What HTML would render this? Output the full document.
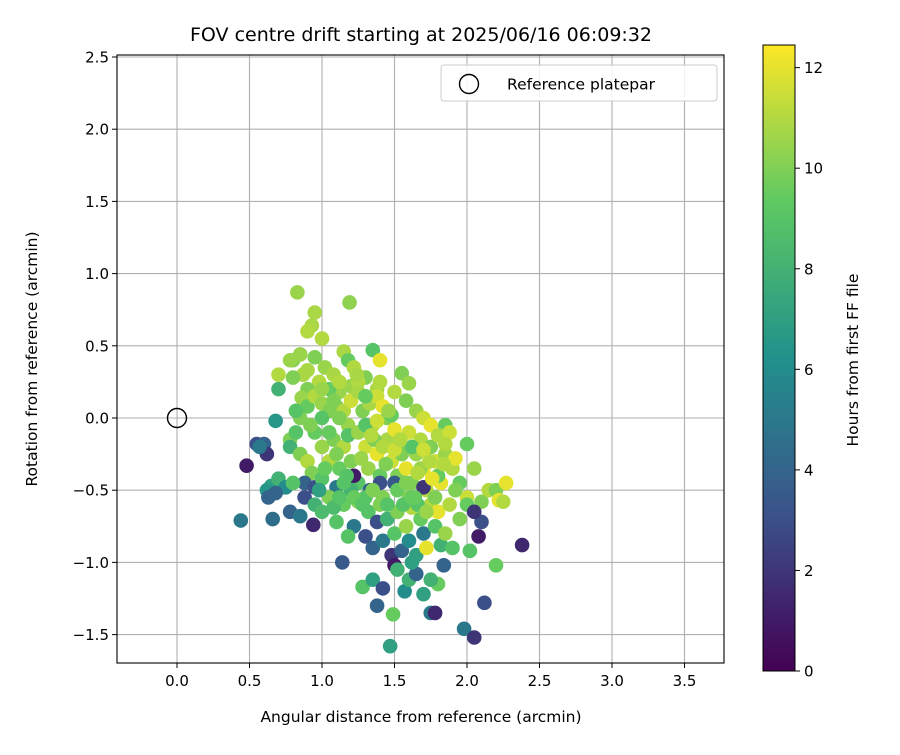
<!DOCTYPE html>
<html><head><meta charset="utf-8"><style>
body{margin:0;background:#fff;font-family:"Liberation Sans","DejaVu Sans",sans-serif}
svg text{font-family:"DejaVu Sans","Liberation Sans",sans-serif;fill:#000}
</style></head><body>
<svg id="chart" width="900" height="750" xmlns="http://www.w3.org/2000/svg"></svg>
<script>
const xs=[0.83,0.93,0.95,1.19,1.0,0.9,0.8,0.85,0.87,0.95,1.02,1.08,1.15,1.18,1.2,1.3,1.35,1.4,1.38,1.25,1.12,1.05,0.98,0.9,0.86,0.85,0.9,0.95,1.0,1.1,1.15,1.2,1.28,1.33,1.38,1.42,1.45,1.55,1.6,1.58,1.65,1.7,1.75,1.85,1.5,0.78,0.7,0.7,0.68,0.8,0.82,1.05,1.25,0.9,1.22,1.3,
0.55,0.6,0.62,0.48,0.57,0.78,0.78,0.82,0.85,0.9,0.93,0.88,0.95,1.0,1.0,1.05,1.08,1.12,1.15,1.18,1.2,1.25,1.3,1.32,1.35,1.38,1.4,1.45,1.48,1.5,1.52,1.55,1.58,1.6,1.62,1.65,1.68,1.7,1.72,1.75,1.78,1.8,1.82,1.85,1.88,1.9,1.92,1.95,2.0,2.05,2.0,2.1,2.15,2.2,2.22,2.27,2.25,1.4,1.33,1.1,0.72,0.65,0.62,0.7,0.75,0.8,1.22,1.5,1.7,1.85,1.42,
0.44,0.66,0.63,0.68,0.78,0.85,0.88,0.94,0.95,1.0,1.05,1.1,1.15,1.2,1.22,1.25,1.3,1.32,1.35,1.38,1.4,1.42,1.45,1.48,1.5,1.52,1.55,1.58,1.6,1.62,1.65,1.68,1.7,1.72,1.75,1.78,1.8,1.82,1.85,1.88,1.9,1.95,2.0,2.02,2.08,2.1,2.05,2.38,2.2,1.18,1.08,0.98,1.12,1.3,
1.14,1.28,1.35,1.38,1.42,1.47,1.49,1.5,1.52,1.57,1.6,1.65,1.7,1.75,1.78,1.8,1.84,1.98,2.05,2.12,1.62,1.75,
1.05,1.12,1.18,1.25,1.3,1.36,1.42,1.48,1.55,1.62,1.68,1.74,1.8,1.15,1.22,1.28,1.35,1.45,1.52,1.6,1.66,1.72,1.0,0.95,1.08,1.4,1.56,1.64,1.78,1.92,
1.02,1.1,1.17,1.27,1.34,1.44,1.5,1.58,1.66,1.76,1.84,0.92,1.0,1.12,1.24,1.38,1.46,1.54,1.7,1.62];
const ys=[0.87,0.64,0.73,0.80,0.55,0.6,0.4,0.44,0.3,0.42,0.35,0.3,0.46,0.4,0.22,0.28,0.47,0.4,0.2,0.25,0.18,0.2,0.25,0.2,0.14,0.0,0.08,0.15,0.1,0.08,0.05,0.12,0.05,0.1,0.15,0.08,0.0,0.31,0.24,0.12,0.05,0.0,-0.05,-0.05,0.18,0.4,0.2,0.3,-0.02,0.28,0.05,0.05,0.18,0.33,0.35,0.15,
-0.18,-0.18,-0.25,-0.33,-0.2,-0.15,-0.2,-0.1,-0.25,-0.3,-0.38,-0.45,-0.48,-0.42,-0.2,-0.3,-0.15,-0.35,-0.2,-0.05,-0.3,-0.45,-0.2,-0.35,-0.05,-0.25,-0.4,-0.15,-0.3,-0.08,-0.4,-0.2,-0.35,-0.1,-0.45,-0.25,-0.15,-0.35,-0.5,-0.2,-0.3,-0.12,-0.45,-0.25,-0.1,-0.35,-0.28,-0.45,-0.18,-0.35,-0.55,-0.58,-0.5,-0.5,-0.57,-0.45,-0.58,-0.45,-0.5,-0.48,-0.48,-0.47,-0.5,-0.42,-0.48,-0.45,-0.4,-0.45,-0.48,-0.18,-0.55,
-0.71,-0.7,-0.55,-0.52,-0.65,-0.68,-0.55,-0.74,-0.6,-0.65,-0.55,-0.72,-0.6,-0.5,-0.75,-0.58,-0.82,-0.65,-0.9,-0.72,-0.6,-0.85,-0.7,-0.95,-0.8,-0.65,-0.92,-0.75,-0.85,-0.62,-0.95,-0.7,-0.8,-0.9,-0.6,-0.75,-0.65,-0.88,-0.8,-0.6,-0.9,-0.7,-0.6,-0.92,-0.82,-0.72,-0.65,-0.88,-1.02,-0.82,-0.62,-0.5,-0.55,-0.55,
-1.0,-1.17,-1.12,-1.3,-1.18,-1.58,-1.36,-1.02,-1.05,-1.2,-1.12,-1.08,-1.22,-1.35,-1.35,-1.15,-1.02,-1.46,-1.52,-1.28,-1.0,-1.12,
-0.1,0.0,-0.12,-0.1,-0.05,-0.15,-0.2,0.02,-0.25,-0.2,-0.35,-0.3,-0.4,-0.45,-0.55,-0.6,-0.5,-0.6,-0.5,-0.55,-0.6,-0.65,0.0,-0.1,0.12,0.25,-0.6,-0.55,-0.55,-0.5,
-0.35,-0.25,-0.4,-0.28,-0.12,-0.32,-0.22,-0.45,-0.38,-0.42,-0.32,-0.05,0.2,0.25,0.3,-0.02,0.05,-0.15,-0.22,-0.55];
const hs=[10.5,10.8,10.8,10.3,11,11,10,10.5,10.8,10,10.5,10.8,10.8,9.5,10.5,10,9,12,10.8,11,10.5,9.5,11,10,10.5,10,9.5,11,10.5,10,11,11.5,10,10.8,11.5,12,10,10,10.5,10,10.5,11.5,12,9.5,11,10.5,8,11,6.5,10,9,10,10.8,10.8,11,9.5,
3,4,2,1,5,10,8,9,10,11,10,4,3,9,10.5,11,10,9.5,11,10.5,10,9,11.5,10.5,11,12,9.5,10.8,11.5,12,10,11,12,11.5,10,10.5,11,12,11,10,11.5,11,12,10.5,11.5,11,12,9.5,9.5,10.5,11.5,10,11,10,12,12,11,3,4,5,3,7,6.5,8,6,9,1,3.5,2,11,10,
5,4.5,4,4,4,5,3,1.5,8,8.5,10,9,9.5,8,5,10,3,9,4,3,10,5,8,2,9,10,4,10.5,6,11,7,9.5,5,12,11,9,12,8,10.5,11,9,10,9.5,9,1,3,2,1.5,9.5,9,8.5,7,9,9,
3.5,9,7,4,3,7,9.5,1,8,6,8,4,7,5,1.5,9.5,4,5,2,3,7,8,
9.5,10,9,10.5,9,10,11,9.5,10,9,10.5,11,9.5,9,9.5,9,10,9,9.5,10,9,10.5,9,9.5,10,11,9,9.5,10,10,
9.5,10,9,10.5,11,10,11.5,10,11,12,11,10,10.5,11,10.8,11.5,10.5,11,11.5,9.5];
const xTicks=[0.0,0.5,1.0,1.5,2.0,2.5,3.0,3.5];
const yTicks=[-1.5,-1.0,-0.5,0.0,0.5,1.0,1.5,2.0,2.5];
const cTicks=[0,2,4,6,8,10,12];
const VMAX=12.45;
const L=117,R=724,T=55,B=663;
const X=v=>177+v*145, Y=v=>418-v*144.4;
const svg=document.getElementById('chart');
const NS='http://www.w3.org/2000/svg';
function mk(t,a,p){const e=document.createElementNS(NS,t);for(const k in a)e.setAttribute(k,a[k]);(p||svg).appendChild(e);return e;}
const stops=[[68,1,84],[59,82,139],[33,145,140],[94,201,98],[253,231,37]];
function vir(t){t=Math.max(0,Math.min(1,t))*4;const i=Math.min(3,Math.floor(t)),f=t-i;const a=stops[i],b=stops[i+1];return 'rgb('+a.map((c,k)=>Math.round(c+(b[k]-c)*f)).join(',')+')';}
const fmt=v=>(v<0?'\u2212':'')+Math.abs(v).toFixed(1);
let e=mk('text',{x:421,y:41,'text-anchor':'middle','font-size':'19'});e.textContent='FOV centre drift starting at 2025/06/16 06:09:32';


const grid=mk('g',{});


xTicks.forEach(v=>{mk('line',{x1:X(v),x2:X(v),y1:T,y2:B,stroke:'#b0b0b0','stroke-width':1.1},grid);});
yTicks.forEach(v=>{mk('line',{x1:L,x2:R,y1:Y(v),y2:Y(v),stroke:'#b0b0b0','stroke-width':1.1},grid);});
const pts=mk('g',{});


xs.forEach((x,i)=>{const c=mk('circle',{cx:X(x),cy:Y(ys[i]),r:7.3,fill:vir(hs[i]/VMAX)},pts);

});
e=mk('circle',{cx:X(0),cy:Y(0),r:9.5,fill:'none',stroke:'#000','stroke-width':1.4});


e=mk('rect',{x:L,y:T,width:R-L,height:B-T,fill:'none',stroke:'#000','stroke-width':1.1});


xTicks.forEach(v=>{mk('line',{x1:X(v),x2:X(v),y1:B,y2:B+5,stroke:'#000'});
const t=mk('text',{x:X(v),y:B+23,'text-anchor':'middle','font-size':'15'});t.textContent=fmt(v);

});
yTicks.forEach(v=>{mk('line',{x1:L-5,x2:L,y1:Y(v),y2:Y(v),stroke:'#000'});
const t=mk('text',{x:L-8,y:Y(v)+5.5,'text-anchor':'end','font-size':'15'});t.textContent=fmt(v);

});
e=mk('text',{x:421,y:722,'text-anchor':'middle','font-size':'15.5'});e.textContent='Angular distance from reference (arcmin)';


e=mk('text',{x:37,y:359,'text-anchor':'middle','font-size':'15.5',transform:'rotate(-90 37 359)'});e.textContent='Rotation from reference (arcmin)';


const lg=mk('g',{});


mk('rect',{x:441,y:65,width:276,height:36,rx:3,fill:'#fff','fill-opacity':0.85,stroke:'#ccc'},lg);
mk('circle',{cx:469,cy:84,r:9.5,fill:'none',stroke:'#000','stroke-width':1.4},lg);
e=mk('text',{x:507,y:89.5,'font-size':'15.5'},lg);e.textContent='Reference platepar';


const defs=mk('defs',{});const gr=mk('linearGradient',{id:'cb',x1:0,y1:1,x2:0,y2:0},defs);
for(let i=0;i<=20;i++)mk('stop',{offset:i/20,'stop-color':vir(i/20)},gr);
const cbT=45,cbB=671,CY=v=>cbB-v/VMAX*(cbB-cbT);
e=mk('rect',{x:763,y:cbT,width:32,height:cbB-cbT,fill:'url(#cb)',stroke:'#000','stroke-width':1});


cTicks.forEach(v=>{mk('line',{x1:795,x2:800,y1:CY(v),y2:CY(v),stroke:'#000'});
const t=mk('text',{x:804,y:CY(v)+5.5,'font-size':'15'});t.textContent=String(v);

});
e=mk('text',{x:858,y:360,'text-anchor':'middle','font-size':'15.5',transform:'rotate(-90 858 360)'});e.textContent='Hours from first FF file';


</script>
</body></html>
